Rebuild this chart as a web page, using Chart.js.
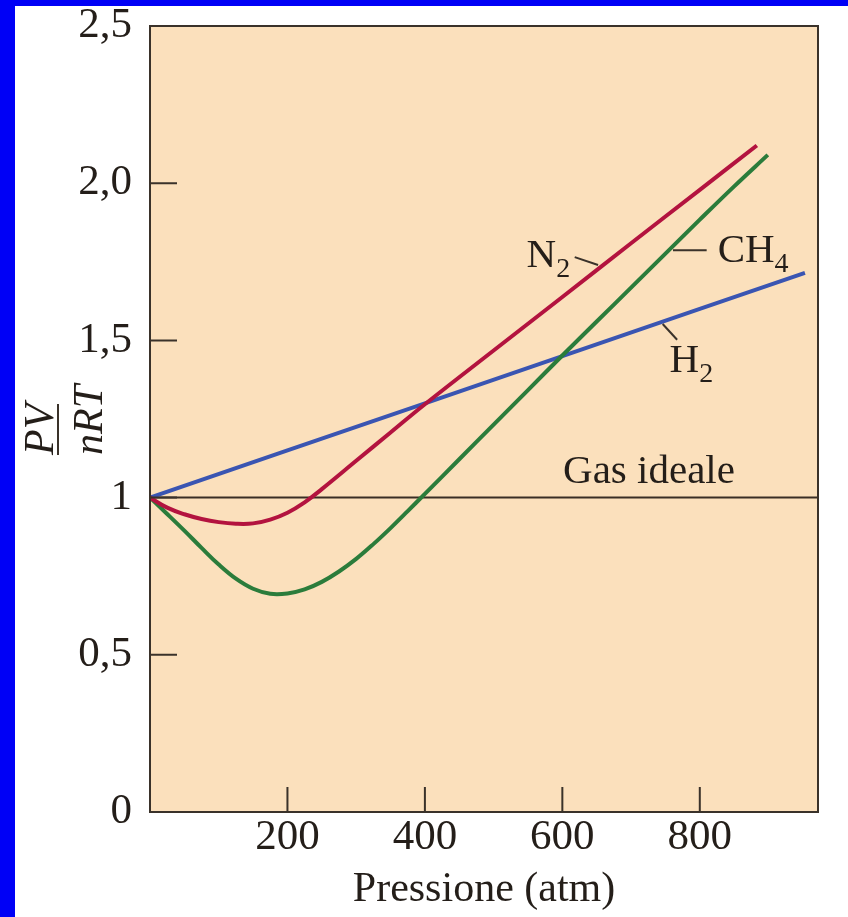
<!DOCTYPE html>
<html>
<head>
<meta charset="utf-8">
<script src="https://cdn.jsdelivr.net/npm/chart.js@4.4.1/dist/chart.umd.min.js"></script>
<style>
  html, body { margin: 0; padding: 0; background: #0000f6; }
  #wrap { position: absolute; left: 15px; top: 6px; width: 833px; height: 911px; background: #fff; }
  canvas { display: block; }
</style>
</head>
<body>
<div id="wrap"><canvas id="chart" width="833" height="911"></canvas></div>
<script>
// pressure (atm) and PV/nRT
const pressN2 = [0, 25, 50, 75, 100, 125, 150, 175, 200, 225, 250, 300, 350, 400, 500, 600, 700, 800, 883];
const zN2 = [1.0, 0.968, 0.947, 0.932, 0.922, 0.917, 0.918, 0.93, 0.952, 0.985, 1.027, 1.117, 1.207, 1.297, 1.468, 1.638, 1.809, 1.979, 2.12];

const pressCH4 = [0, 25, 50, 75, 100, 125, 150, 175, 200, 225, 250, 275, 300, 325, 350, 375, 400, 450, 500, 550, 600, 650, 700, 750, 800, 850, 899];
const zCH4 = [1.0, 0.948, 0.895, 0.84, 0.787, 0.742, 0.71, 0.694, 0.695, 0.708, 0.732, 0.765, 0.805, 0.852, 0.903, 0.957, 1.012, 1.122, 1.232, 1.342, 1.452, 1.56, 1.668, 1.776, 1.884, 1.99, 2.09];

const pressH2 = [0, 200, 400, 600, 800, 953];
const zH2 = [1.0, 1.15, 1.3, 1.45, 1.6, 1.715];

const pressIdeal = [0, 972];
const zIdeal = [1, 1];

const xTicks = [0, 200, 400, 600, 800];
const xTickLabels = ['', '200', '400', '600', '800'];
const yTicks = [0, 0.5, 1, 1.5, 2, 2.5];
const yTickLabels = ['0', '0,5', '1', '1,5', '2,0', '2,5'];

const serif = '"Liberation Serif", "DejaVu Serif", serif';
const ink = '#241e19';

const toPoints = (xs, ys) => xs.map((x, i) => ({ x, y: ys[i] }));

// curve labels, anchored in data units
const notes = [
  { main: 'N', sub: '2', x: 548, y: 1.733, lead: [618, 1.765, 652, 1.74] },
  { main: 'CH', sub: '4', x: 826, y: 1.749, lead: [761, 1.787, 810, 1.787] },
  { main: 'H', sub: '2', x: 756, y: 1.40, lead: [746, 1.552, 767, 1.502] },
  { main: 'Gas ideale', sub: '', x: 601, y: 1.048 },
];

const plotBox = {
  id: 'plotBox',
  beforeDatasetsDraw(chart) {
    const { ctx, chartArea: a } = chart;
    ctx.save();
    ctx.fillStyle = 'rgb(251,224,188)';
    ctx.fillRect(a.left, a.top, a.right - a.left, a.bottom - a.top);
    ctx.restore();
  },
  afterDatasetsDraw(chart) {
    const { ctx, chartArea: a, scales } = chart;
    ctx.save();
    ctx.strokeStyle = '#3a322a';
    ctx.lineWidth = 2;
    ctx.strokeRect(a.left, a.top, a.right - a.left, a.bottom - a.top);

    // inward ticks
    ctx.beginPath();
    yTicks.slice(1, -1).forEach((v) => {
      const py = scales.y.getPixelForValue(v);
      ctx.moveTo(a.left, py);
      ctx.lineTo(a.left + 27, py);
    });
    xTicks.slice(1).forEach((v) => {
      const px = scales.x.getPixelForValue(v);
      ctx.moveTo(px, a.bottom);
      ctx.lineTo(px, a.bottom - 25);
    });
    ctx.stroke();

    // labels on the curves
    ctx.fillStyle = ink;
    ctx.textBaseline = 'alphabetic';
    ctx.textAlign = 'left';
    notes.forEach((n) => {
      const px = scales.x.getPixelForValue(n.x);
      const py = scales.y.getPixelForValue(n.y);
      ctx.font = '41px ' + serif;
      ctx.fillText(n.main, px, py);
      if (n.sub) {
        const w = ctx.measureText(n.main).width;
        ctx.font = '28px ' + serif;
        ctx.fillText(n.sub, px + w, py + 10);
      }
      if (n.lead) {
        ctx.lineWidth = 2;
        ctx.beginPath();
        ctx.moveTo(scales.x.getPixelForValue(n.lead[0]), scales.y.getPixelForValue(n.lead[1]));
        ctx.lineTo(scales.x.getPixelForValue(n.lead[2]), scales.y.getPixelForValue(n.lead[3]));
        ctx.stroke();
      }
    });

    // y title PV / nRT
    ctx.translate(a.left - 92, 423);
    ctx.rotate(-Math.PI / 2);
    ctx.font = 'italic 42px ' + serif;
    ctx.fillText('PV', -26, -5);
    ctx.fillText('nRT', -26, 44);
    ctx.lineWidth = 2;
    ctx.beginPath();
    ctx.moveTo(-26, 0);
    ctx.lineTo(25, 0);
    ctx.stroke();
    ctx.restore();
  },
};

const line = (label, xs, ys, color, width, order, smooth) => ({
  label,
  data: toPoints(xs, ys),
  borderColor: color,
  borderWidth: width,
  pointRadius: 0,
  fill: false,
  order,
  tension: smooth ? 0.4 : 0,
});

new Chart(document.getElementById('chart').getContext('2d'), {
  type: 'line',
  data: {
    datasets: [
      line('N2', pressN2, zN2, '#b3133f', 4, 1, true),
      line('CH4', pressCH4, zCH4, '#2b7c3b', 4, 2, true),
      line('H2', pressH2, zH2, '#3a55b2', 4, 3, false),
      line('Gas ideale', pressIdeal, zIdeal, '#3a2e25', 2, 4, false),
    ],
  },
  options: {
    responsive: false,
    animation: false,
    devicePixelRatio: 1,
    layout: { padding: { top: 20, right: 30, left: 0, bottom: 0 } },
    plugins: { legend: { display: false }, tooltip: { enabled: false } },
    scales: {
      x: {
        type: 'linear',
        min: 0,
        max: 972,
        grid: { display: false, drawTicks: false },
        border: { display: false },
        afterBuildTicks: (s) => { s.ticks = xTicks.map((v) => ({ value: v })); },
        afterFit: (s) => { s.height = 105; s.paddingLeft = 0; s.paddingRight = 0; },
        ticks: {
          padding: 0,
          color: ink,
          font: { family: serif, size: 43 },
          maxRotation: 0,
          callback: (v) => xTickLabels[xTicks.indexOf(v)],
        },
        title: {
          display: true,
          text: 'Pressione (atm)',
          color: ink,
          font: { family: serif, size: 42 },
          padding: { top: 0, bottom: 2 },
        },
      },
      y: {
        min: 0,
        max: 2.5,
        grid: { display: false, drawTicks: false },
        border: { display: false },
        afterBuildTicks: (s) => { s.ticks = yTicks.map((v) => ({ value: v })); },
        afterFit: (s) => { s.width = 135; s.paddingTop = 0; s.paddingBottom = 0; },
        ticks: {
          padding: 18,
          color: ink,
          font: { family: serif, size: 43 },
          callback: (v) => yTickLabels[yTicks.indexOf(v)],
        },
      },
    },
  },
  plugins: [plotBox],
});
</script>
</body>
</html>
